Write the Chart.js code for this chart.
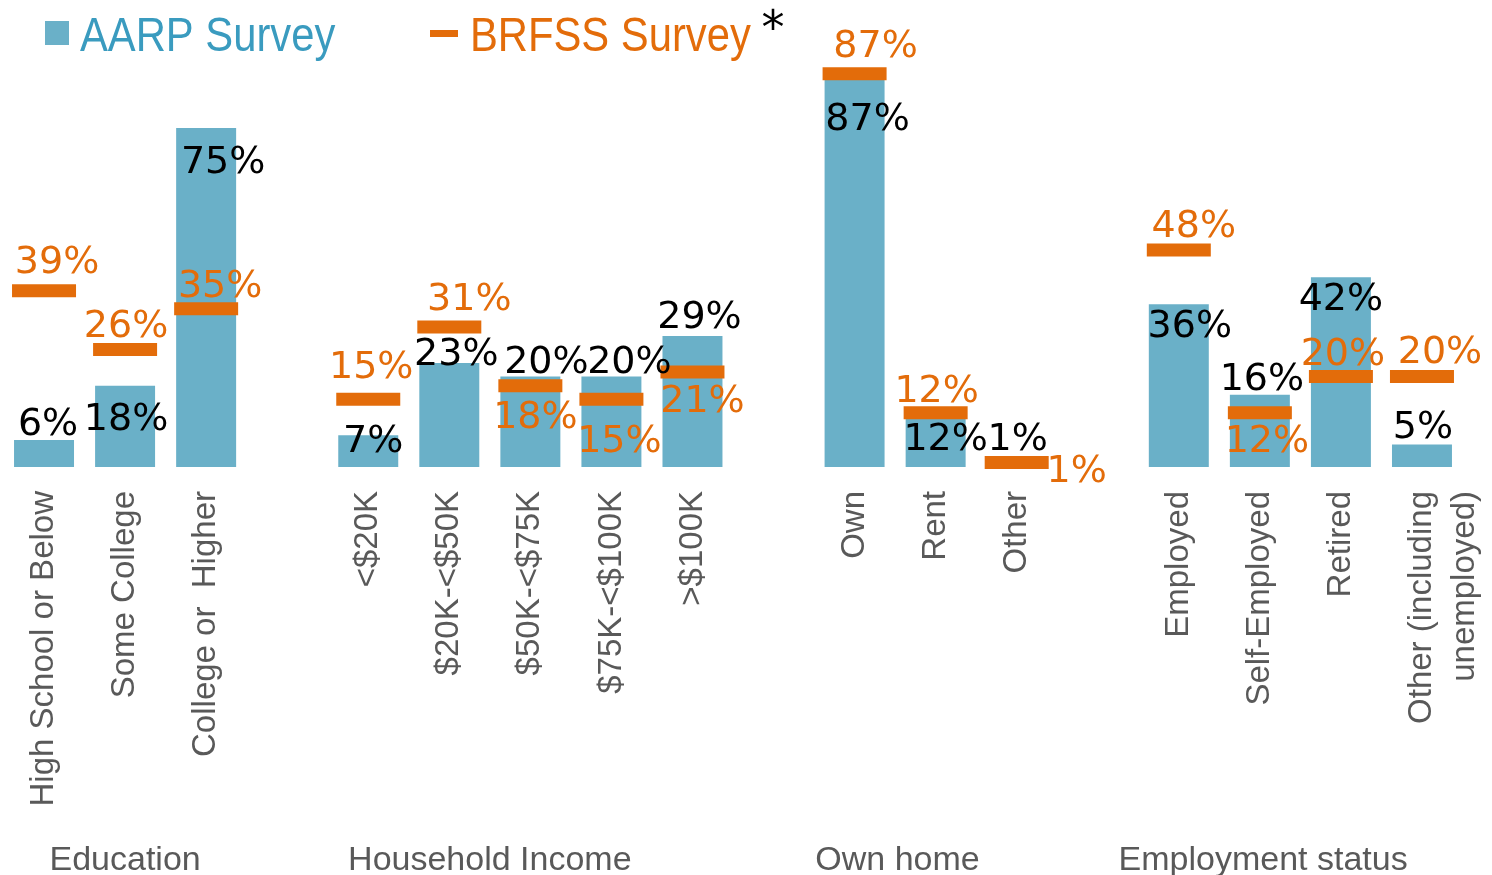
<!DOCTYPE html>
<html>
<head>
<meta charset="utf-8">
<script src="https://cdn.jsdelivr.net/npm/chart.js@4"></script>
<style>
  html, body { margin: 0; padding: 0; background: #fff; }
  #wrap { width: 1492px; height: 875px; }
</style>
</head>
<body>
<div id="wrap"><canvas id="bar-chart"></canvas></div>
<script>
// empty strings / nulls are the gaps between the four groups
const categories = [
  'High School or Below', 'Some College', 'College or  Higher', '',
  '<$20K', '$20K-<$50K', '$50K-<$75K', '$75K-<$100K', '>$100K', '',
  'Own', 'Rent', 'Other', '',
  'Employed', 'Self-Employed', 'Retired', ['Other (including', 'unemployed)']
]
const aarp = [6, 18, 75, null, 7, 23, 20, 20, 29, null, 87, 12, 1, null, 36, 16, 42, 5]
const brfss = [39, 26, 35, null, 15, 31, 18, 15, 21, null, 87, 12, 1, null, 48, 12, 20, 20]
const groups = ['Education', 'Household Income', 'Own home', 'Employment status']

// where the value labels sit relative to their bar top / marker (px)
const aarpNudge = [[4,-5],[1,44],[17,45],null,[5,17],[7,2],[16,-4],[18,-4],[7,-8],null,
  [13,56],[10,37],[1,-12],null,[11,33],[2,-5],[0,33],[1,-6]]
const brfssNudge = [[13,-18],[1,-12],[14,-12],null,[3,-21],[20,-17],[5,42],[8,53],[10,40],null,
  [21,-17],[1,-11],[60,20],null,[15,-13],[7,39],[2,-12],[18,-14]]
// group title centres, in category index units
const groupPos = [1.0, 5.5, 10.53, 15.04]

const teal = '#6AB0C8'
const orange = '#E36C0A'

const valueLabels = {
  id: 'valueLabels',
  afterDatasetsDraw(chart) {
    const ctx = chart.ctx
    ctx.save()
    ctx.font = '38px "DejaVu Sans"'
    ctx.textAlign = 'center'
    ctx.textBaseline = 'alphabetic'
    const sets = [[0, aarpNudge, '#000'], [1, brfssNudge, orange]]
    sets.forEach(([di, nudge, color]) => {
      const meta = chart.getDatasetMeta(di)
      const vals = chart.data.datasets[di].data
      ctx.fillStyle = color
      meta.data.forEach((el, i) => {
        if (vals[i] == null || !nudge[i]) return
        ctx.fillText(vals[i] + '%', el.x + nudge[i][0], el.y + nudge[i][1])
      })
    })
    ctx.restore()
  }
}

const legendAndGroups = {
  id: 'legendAndGroups',
  afterDraw(chart) {
    const ctx = chart.ctx
    const x = chart.scales.x
    ctx.save()
    // legend
    ctx.fillStyle = teal
    ctx.fillRect(45, 21, 24, 24)
    ctx.fillStyle = orange
    ctx.fillRect(430, 30, 28, 7)
    ctx.font = '48px "Liberation Sans"'
    ctx.textAlign = 'left'
    ctx.textBaseline = 'alphabetic'
    ctx.save()
    ctx.translate(80, 51); ctx.scale(0.87, 1)
    ctx.fillStyle = '#3A9BBF'
    ctx.fillText('AARP Survey', 0, 0)
    ctx.restore()
    ctx.save()
    ctx.translate(470, 51); ctx.scale(0.87, 1)
    ctx.fillStyle = orange
    ctx.fillText('BRFSS Survey', 0, 0)
    ctx.restore()
    ctx.fillStyle = '#000'
    ctx.font = '46px "DejaVu Sans"'
    ctx.textAlign = 'center'
    ctx.fillText('*', 773, 43)
    // group titles under the axis
    ctx.font = '34px "Liberation Sans"'
    ctx.fillStyle = '#595959'
    groups.forEach((g, i) => {
      ctx.fillText(g, x.getPixelForValue(groupPos[i]), 870)
    })
    ctx.restore()
  }
}

new Chart(document.getElementById('bar-chart'), {
  type: 'bar',
  data: {
    labels: categories,
    datasets: [
      {
        label: 'AARP Survey',
        data: aarp,
        backgroundColor: teal,
        borderWidth: 0,
        barPercentage: 0.74,
        categoryPercentage: 1,
        order: 2
      },
      {
        type: 'line',
        label: 'BRFSS Survey',
        data: brfss,
        showLine: false,
        pointStyle: 'line',
        pointRadius: 32,
        pointHoverRadius: 32,
        pointBorderWidth: 13,
        borderColor: orange,
        backgroundColor: orange,
        clip: false,
        order: 1
      }
    ]
  },
  options: {
    responsive: true,
    maintainAspectRatio: false,
    animation: false,
    layout: { autoPadding: false, padding: { top: 15, left: 3.5, right: 29.5, bottom: 0 } },
    plugins: {
      legend: { display: false },
      tooltip: { enabled: false }
    },
    scales: {
      x: {
        grid: { display: false },
        border: { display: false },
        ticks: {
          autoSkip: false,
          minRotation: 90,
          maxRotation: 90,
          padding: 16,
          color: '#595959',
          font: { family: '"Liberation Sans"', size: 33, lineHeight: 1.3 }
        },
        afterFit(scale) {
          scale.height = 408
          scale.paddingLeft = 0
          scale.paddingRight = 0
          scale.paddingTop = 0
          scale.paddingBottom = 0
        }
      },
      y: {
        display: false,
        min: 0,
        max: 100
      }
    }
  },
  plugins: [valueLabels, legendAndGroups]
})
</script>
</body>
</html>
